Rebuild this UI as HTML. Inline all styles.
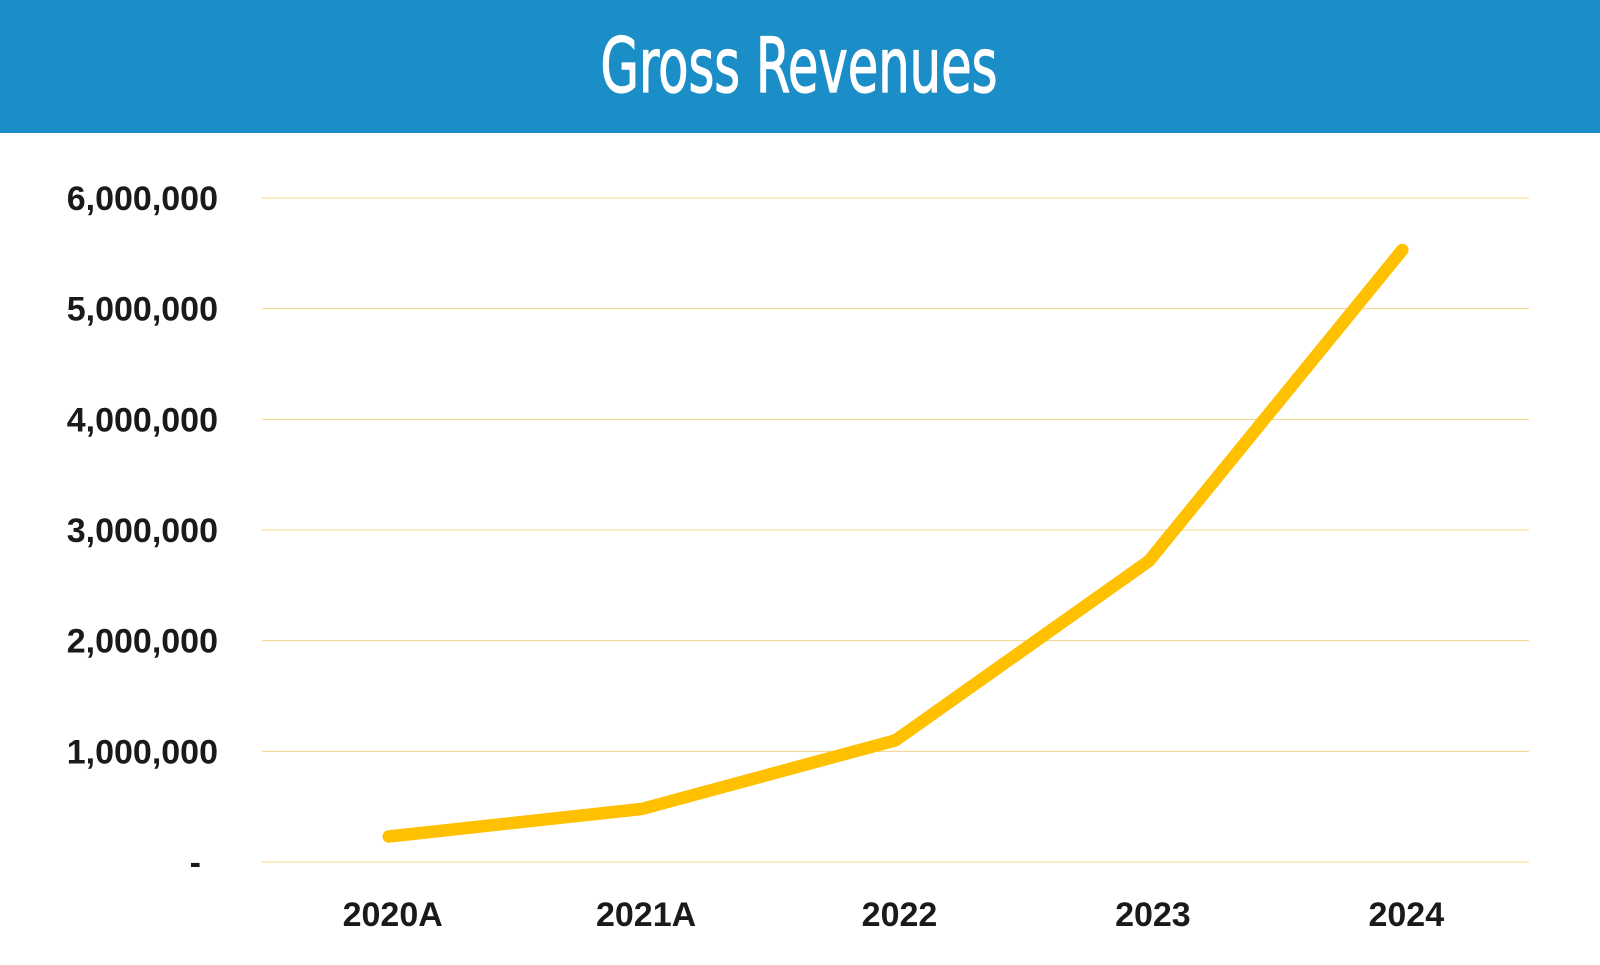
<!DOCTYPE html>
<html><head><meta charset="utf-8"><style>
html,body{margin:0;padding:0;background:#fff;width:1600px;height:965px;overflow:hidden}
svg{display:block}
</style></head><body>
<svg id="chart" width="1600" height="965" font-family="'Liberation Sans', sans-serif">
<rect x="0" y="0" width="1600" height="133" fill="#1B8DC7"/>
<text x="799" y="92" text-anchor="middle" fill="#fff" font-size="76" font-family="'Liberation Sans Narrow','DejaVu Sans Condensed','Liberation Sans',sans-serif" textLength="397" lengthAdjust="spacingAndGlyphs" stroke="#fff" stroke-width="1.2">Gross Revenues</text>
<g id="grid"></g><g id="yaxis"></g><g id="xaxis"></g><g id="series"></g>
</svg>
<script>
const categories=["2020A","2021A","2022","2023","2024"];
const revenues=[230000,480000,1100000,2720000,5530000];
const yTicks=[0,1000000,2000000,3000000,4000000,5000000,6000000];
const yTickLabels=["-","1,000,000","2,000,000","3,000,000","4,000,000","5,000,000","6,000,000"];
const NS="http://www.w3.org/2000/svg";
const x0=262,x1=1529,yBase=862,yTop=198,yMax=6000000;
const band=(x1-x0)/categories.length;
function xs(i){return x0+band*(i+0.5);}
function ys(v){return yBase-(v/yMax)*(yBase-yTop);}
function mk(t,a,p){const e=document.createElementNS(NS,t);for(const k in a)e.setAttribute(k,a[k]);p.appendChild(e);return e;}
const grid=document.getElementById('grid'),ya=document.getElementById('yaxis'),xa=document.getElementById('xaxis'),se=document.getElementById('series');
yTicks.forEach((v,i)=>{
 const l=mk('line',{x1:x0,x2:x1,y1:ys(v),y2:ys(v),stroke:'#F3D48A','stroke-width':1},grid);
 
 
 const t=mk('text',{x:i===0?201:218,y:ys(v)+12,'text-anchor':'end','font-size':34,'font-weight':'bold',fill:'#1a1a1a'},ya);
 t.textContent=yTickLabels[i];
 
 
});
categories.forEach((c,i)=>{
 const t=mk('text',{x:xs(i)+4,y:926,'text-anchor':'middle','font-size':34,'font-weight':'bold',fill:'#1a1a1a'},xa);
 t.textContent=c;
 
 
});
const pts=revenues.map((v,i)=>xs(i).toFixed(1)+','+ys(v).toFixed(1)).join(' ');
const pl=mk('polyline',{points:pts,fill:'none',stroke:'#FFC000','stroke-width':12.5,'stroke-linecap':'round','stroke-linejoin':'round'},se);


</script>
</body></html>
